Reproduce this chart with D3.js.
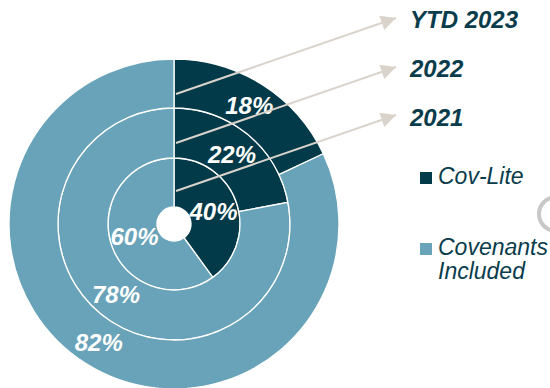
<!DOCTYPE html>
<html>
<head>
<meta charset="utf-8">
<script src="https://cdn.jsdelivr.net/npm/d3@7"></script>
<style>
  html, body { margin: 0; padding: 0; background: #fff; }
  svg { display: block; font-family: "Liberation Sans", Arial, sans-serif; }
</style>
</head>
<body>
<svg id="chart" width="550" height="388"></svg>
<script>
// Share of loans by covenant type, one ring per year (inner = oldest)
const years = ["2021", "2022", "YTD 2023"];
const seriesNames = ["Cov-Lite", "Covenants Included"];
const covLite = [40, 22, 18];
const covenantsIncluded = [60, 78, 82];

const colors = ["#033a4a", "#68a3b9"];
const textColor = "#0a3c4c";
const arrowColor = "#d9d3cb";

const svg = d3.select("#chart");
const cx = 174, cy = 224;
const ringRadii = [[17, 66], [66, 116], [116, 165]];

const color = d3.scaleOrdinal().domain(seriesNames).range(colors);
const pie = d3.pie().sort(null).value(d => d.value).startAngle(0).endAngle(2 * Math.PI);

const g = svg.append("g").attr("transform", `translate(${cx},${cy})`);

years.forEach((year, i) => {
  const rows = [
    { series: seriesNames[0], value: covLite[i] },
    { series: seriesNames[1], value: covenantsIncluded[i] }
  ];
  const arc = d3.arc().innerRadius(ringRadii[i][0]).outerRadius(ringRadii[i][1]);
  const ring = g.append("g").attr("class", "ring");
  const slices = pie(rows);
  ring.selectAll("path")
    .data(slices)
    .join("path")
    .attr("d", arc)
    .attr("fill", d => color(d.data.series))
    .attr("stroke", "#fff")
    .attr("stroke-width", 1.3);
  ring.selectAll("text")
    .data(slices)
    .join("text")
    .attr("transform", d => `translate(${arc.centroid(d)})`)
    .attr("text-anchor", "middle")
    .attr("dy", "0.36em")
    .attr("fill", "#fff")
    .attr("font-size", 24)
    .attr("font-weight", "bold")
    .attr("font-style", "italic")
    .text(d => d.data.value + "%");
});

// white hole in the middle
g.append("circle").attr("r", ringRadii[0][0]).attr("fill", "#fff");

// year call-outs: arrows from each ring to its label
const defs = svg.append("defs");
defs.append("marker")
  .attr("id", "head")
  .attr("viewBox", "0 0 10 10")
  .attr("refX", 10).attr("refY", 5)
  .attr("markerWidth", 8.5).attr("markerHeight", 7.5)
  .attr("markerUnits", "strokeWidth")
  .attr("orient", "auto")
  .append("path")
  .attr("d", "M0,0 L10,5 L0,10 Z")
  .attr("fill", arrowColor);

const arrowStartY = [191, 143, 94];
const labelBaseY = [126, 77, 28];
years.forEach((year, i) => {
  svg.append("line")
    .attr("x1", cx + 2).attr("y1", arrowStartY[i])
    .attr("x2", 396).attr("y2", arrowStartY[i] - 76)
    .attr("stroke", arrowColor)
    .attr("stroke-width", 2)
    .attr("marker-end", "url(#head)");
  svg.append("text")
    .attr("x", 410).attr("y", labelBaseY[i])
    .attr("fill", textColor)
    .attr("font-size", 24)
    .attr("font-weight", "bold")
    .attr("font-style", "italic")
    .text(year);
});

// legend
const legendY = [184, 255];
seriesNames.forEach((name, i) => {
  svg.append("rect")
    .attr("x", 420).attr("y", legendY[i] - 12)
    .attr("width", 12).attr("height", 12)
    .attr("fill", colors[i]);
  const t = svg.append("text")
    .attr("x", 438).attr("y", legendY[i])
    .attr("fill", textColor)
    .attr("font-size", 23)
    .attr("font-style", "italic");
  const words = name === "Covenants Included" ? ["Covenants", "Included"] : [name];
  words.forEach((w, j) => {
    t.append("tspan").attr("x", 438).attr("dy", j === 0 ? 0 : 24).text(w);
  });
});

// partially visible ring icon at the right edge
svg.append("circle")
  .attr("cx", 556).attr("cy", 214).attr("r", 17)
  .attr("fill", "none")
  .attr("stroke", "#c8c8c8")
  .attr("stroke-width", 4);
</script>
</body>
</html>
